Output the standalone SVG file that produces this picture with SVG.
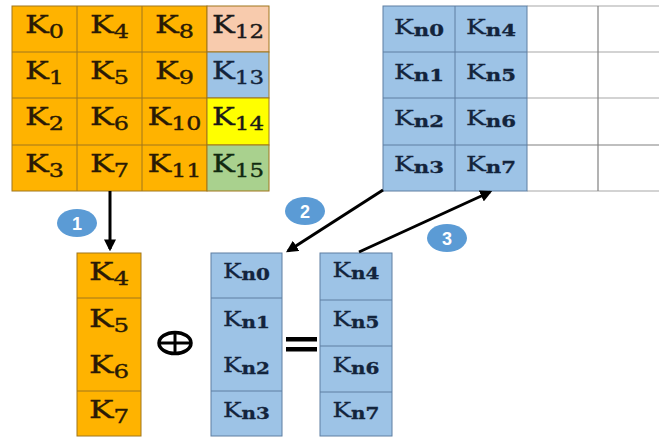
<svg xmlns="http://www.w3.org/2000/svg" width="659" height="437" viewBox="0 0 659 437">
<style>
.o{fill:#FFB300;stroke:#A0761C;stroke-width:1}
.b{fill:#9DC3E6;stroke:#5E7FA2;stroke-width:1}
.ol{stroke:#A0761C;stroke-width:1}
.bl{stroke:#5E7FA2;stroke-width:1}
.t{font-family:"DejaVu Serif","Liberation Serif",serif;font-size:24px;fill:#2A1A05;stroke:#2A1A05;stroke-width:0.35}
.tb{font-family:"DejaVu Serif","Liberation Serif",serif;font-size:20px;fill:#13243C;stroke:#13243C;stroke-width:0.3}
.s{font-size:18px}
.sn{font-size:16px;font-weight:bold}
.w{stroke:#A8A8A8;stroke-width:1.2;fill:none}
.wd{stroke:#808080;stroke-width:1.2;fill:none}
.arrow{stroke:#000;stroke-width:3;fill:none;marker-end:url(#ah)}
.badge ellipse{fill:#5B9BD5}
.badge text{font-family:"Liberation Sans",Arial,sans-serif;font-weight:bold;font-size:18px;fill:#fff;text-anchor:middle}
</style>
<defs>
<marker id="ah" viewBox="0 0 10 10" refX="8" refY="5" markerWidth="4" markerHeight="4" orient="auto" markerUnits="strokeWidth">
<path d="M0,0 L10,5 L0,10 z" fill="#000"/>
</marker>
</defs>

<g id="key-matrix">
<rect class="o" x="12" y="6" width="195" height="185"/>
<rect x="207" y="6" width="62" height="46" fill="#F8CBAD" stroke="#A0761C"/>
<rect x="207" y="52" width="62" height="46" fill="#9DC3E6" stroke="#A0761C"/>
<rect x="207" y="98" width="62" height="47" fill="#FFFF00" stroke="#A0761C"/>
<rect x="207" y="145" width="62" height="46" fill="#A9D18E" stroke="#A0761C"/>
<line class="ol" x1="77" y1="6" x2="77" y2="191"/>
<line class="ol" x1="142" y1="6" x2="142" y2="191"/>
<line class="ol" x1="12" y1="52" x2="207" y2="52"/>
<line class="ol" x1="12" y1="98" x2="207" y2="98"/>
<line class="ol" x1="12" y1="145" x2="207" y2="145"/>
<g class="t">
<text x="25" y="33" textLength="39" lengthAdjust="spacingAndGlyphs">K<tspan class="s" dy="5">0</tspan></text>
<text x="25" y="79" textLength="39" lengthAdjust="spacingAndGlyphs">K<tspan class="s" dy="5">1</tspan></text>
<text x="25" y="125" textLength="39" lengthAdjust="spacingAndGlyphs">K<tspan class="s" dy="5">2</tspan></text>
<text x="25" y="172" textLength="39" lengthAdjust="spacingAndGlyphs">K<tspan class="s" dy="5">3</tspan></text>
<text x="90" y="33" textLength="39" lengthAdjust="spacingAndGlyphs">K<tspan class="s" dy="5">4</tspan></text>
<text x="90" y="79" textLength="39" lengthAdjust="spacingAndGlyphs">K<tspan class="s" dy="5">5</tspan></text>
<text x="90" y="125" textLength="39" lengthAdjust="spacingAndGlyphs">K<tspan class="s" dy="5">6</tspan></text>
<text x="90" y="172" textLength="39" lengthAdjust="spacingAndGlyphs">K<tspan class="s" dy="5">7</tspan></text>
<text x="155" y="33" textLength="39" lengthAdjust="spacingAndGlyphs">K<tspan class="s" dy="5">8</tspan></text>
<text x="155" y="79" textLength="39" lengthAdjust="spacingAndGlyphs">K<tspan class="s" dy="5">9</tspan></text>
<text x="147.5" y="125" textLength="54" lengthAdjust="spacingAndGlyphs">K<tspan class="s" dy="5">10</tspan></text>
<text x="147.5" y="172" textLength="54" lengthAdjust="spacingAndGlyphs">K<tspan class="s" dy="5">11</tspan></text>
<text x="212" y="33" textLength="52" lengthAdjust="spacingAndGlyphs" fill="#1A1A1A" stroke="#1A1A1A">K<tspan class="s" dy="5">12</tspan></text>
<text x="212" y="79" textLength="52" lengthAdjust="spacingAndGlyphs" fill="#13243C" stroke="#13243C">K<tspan class="s" dy="5">13</tspan></text>
<text x="212" y="125" textLength="52" lengthAdjust="spacingAndGlyphs" fill="#1A1A1A" stroke="#1A1A1A">K<tspan class="s" dy="5">14</tspan></text>
<text x="212" y="172" textLength="52" lengthAdjust="spacingAndGlyphs" fill="#102A10" stroke="#102A10">K<tspan class="s" dy="5">15</tspan></text>
</g>
</g>

<g id="new-key-matrix">
<line class="w" x1="527" y1="6" x2="659" y2="6"/>
<line class="w" x1="527" y1="52" x2="659" y2="52"/>
<line class="w" x1="527" y1="98" x2="659" y2="98"/>
<line class="wd" x1="527" y1="145" x2="659" y2="145"/>
<line class="w" x1="527" y1="191" x2="659" y2="191"/>
<line class="wd" x1="598" y1="6" x2="598" y2="191"/>
<rect class="b" x="383" y="6" width="144" height="185"/>
<line class="bl" x1="455" y1="6" x2="455" y2="191"/>
<line class="bl" x1="383" y1="52" x2="527" y2="52"/>
<line class="bl" x1="383" y1="98" x2="527" y2="98"/>
<line class="bl" x1="383" y1="145" x2="527" y2="145"/>
<g class="tb">
<text x="394" y="34" textLength="50" lengthAdjust="spacingAndGlyphs">K<tspan class="sn" dy="2">n0</tspan></text>
<text x="394" y="79" textLength="50" lengthAdjust="spacingAndGlyphs">K<tspan class="sn" dy="2">n1</tspan></text>
<text x="394" y="125" textLength="50" lengthAdjust="spacingAndGlyphs">K<tspan class="sn" dy="2">n2</tspan></text>
<text x="394" y="171" textLength="50" lengthAdjust="spacingAndGlyphs">K<tspan class="sn" dy="2">n3</tspan></text>
<text x="466" y="34" textLength="50" lengthAdjust="spacingAndGlyphs">K<tspan class="sn" dy="2">n4</tspan></text>
<text x="466" y="79" textLength="50" lengthAdjust="spacingAndGlyphs">K<tspan class="sn" dy="2">n5</tspan></text>
<text x="466" y="125" textLength="50" lengthAdjust="spacingAndGlyphs">K<tspan class="sn" dy="2">n6</tspan></text>
<text x="466" y="171" textLength="50" lengthAdjust="spacingAndGlyphs">K<tspan class="sn" dy="2">n7</tspan></text>
</g>
</g>

<g id="column-k4-k7">
<rect class="o" x="77" y="253" width="64" height="183"/>
<line class="ol" x1="77" y1="298" x2="141" y2="298"/>
<line class="ol" x1="77" y1="391" x2="141" y2="391"/>
<g class="t">
<text x="89" y="280" textLength="40" lengthAdjust="spacingAndGlyphs">K<tspan class="s" dy="5">4</tspan></text>
<text x="89" y="327" textLength="40" lengthAdjust="spacingAndGlyphs">K<tspan class="s" dy="5">5</tspan></text>
<text x="89" y="373" textLength="40" lengthAdjust="spacingAndGlyphs">K<tspan class="s" dy="5">6</tspan></text>
<text x="89" y="418" textLength="40" lengthAdjust="spacingAndGlyphs">K<tspan class="s" dy="5">7</tspan></text>
</g>
</g>

<g id="xor-sign">
<ellipse cx="175" cy="343" rx="16" ry="10.5" fill="none" stroke="#000" stroke-width="3.5"/>
<line x1="159" y1="343" x2="191" y2="343" stroke="#000" stroke-width="3"/>
<line x1="175" y1="332.5" x2="175" y2="353.5" stroke="#000" stroke-width="3"/>
</g>

<g id="column-kn0-kn3">
<rect class="b" x="211" y="253" width="71" height="183"/>
<line class="bl" x1="211" y1="298" x2="282" y2="298"/>
<line class="bl" x1="211" y1="391" x2="282" y2="391"/>
<g class="tb">
<text x="223" y="278" textLength="47" lengthAdjust="spacingAndGlyphs">K<tspan class="sn" dy="2">n0</tspan></text>
<text x="223" y="326" textLength="47" lengthAdjust="spacingAndGlyphs">K<tspan class="sn" dy="2">n1</tspan></text>
<text x="223" y="372" textLength="47" lengthAdjust="spacingAndGlyphs">K<tspan class="sn" dy="2">n2</tspan></text>
<text x="223" y="417" textLength="47" lengthAdjust="spacingAndGlyphs">K<tspan class="sn" dy="2">n3</tspan></text>
</g>
</g>

<g id="equals-sign">
<rect x="286" y="337" width="31" height="4.5" fill="#000"/>
<rect x="286" y="347" width="31" height="4.5" fill="#000"/>
</g>

<g id="column-kn4-kn7">
<rect class="b" x="320" y="253" width="72" height="183"/>
<line class="bl" x1="320" y1="300" x2="392" y2="300"/>
<line class="bl" x1="320" y1="346" x2="392" y2="346"/>
<line class="bl" x1="320" y1="392" x2="392" y2="392"/>
<g class="tb">
<text x="332.5" y="277" textLength="47" lengthAdjust="spacingAndGlyphs">K<tspan class="sn" dy="2">n4</tspan></text>
<text x="332.5" y="326" textLength="47" lengthAdjust="spacingAndGlyphs">K<tspan class="sn" dy="2">n5</tspan></text>
<text x="332.5" y="372" textLength="47" lengthAdjust="spacingAndGlyphs">K<tspan class="sn" dy="2">n6</tspan></text>
<text x="332.5" y="417" textLength="47" lengthAdjust="spacingAndGlyphs">K<tspan class="sn" dy="2">n7</tspan></text>
</g>
</g>

<g id="connectors">
<line class="arrow" x1="110" y1="191" x2="110" y2="249"/>
<line class="arrow" x1="383" y1="190" x2="288" y2="251"/>
<line class="arrow" x1="359" y1="252" x2="490" y2="192"/>
</g>

<g id="step-1" class="badge"><ellipse cx="77" cy="223" rx="20" ry="14"/><text x="77" y="229.5">1</text></g>
<g id="step-2" class="badge"><ellipse cx="305" cy="211" rx="20" ry="14"/><text x="305" y="217.5">2</text></g>
<g id="step-3" class="badge"><ellipse cx="447" cy="238" rx="20" ry="14"/><text x="447" y="244.5">3</text></g>
</svg>
